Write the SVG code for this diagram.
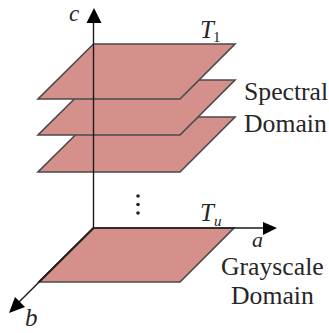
<svg xmlns="http://www.w3.org/2000/svg" width="329" height="333" viewBox="0 0 329 333">
<style>
.plane{fill:#d6908c;stroke:#4a4a4a;stroke-width:1.6;stroke-linejoin:miter}
.axis{stroke:#1a1a1a;stroke-width:1.4;fill:none}
.head{fill:#000}
text{font-family:"Liberation Serif",serif;fill:#262626}
.lbl{font-size:25.700px}
.var{font-size:25px;font-style:italic}
.var-small{font-size:23px;font-style:italic}
.sub{font-size:15px}
</style>
<rect width="329" height="333" fill="#fff"/>
<g id="plane-grayscale"><polygon class="plane" points="93.500,228 234,228 180,282 39,282"/></g>
<g id="plane-3"><polygon class="plane" points="93.500,117 235,117 180,172 38,172"/></g>
<g id="plane-2"><polygon class="plane" points="93.500,80 235,80 180,135 38,135"/></g>
<g id="plane-1"><polygon class="plane" points="93.500,44 235,44 180,99 38,99"/></g>
<g id="connectors">
<line class="axis" x1="93.500" y1="228" x2="93.500" y2="20"/>
<polygon class="head" points="94,8 101.500,23 86.500,23"/>
<line class="axis" x1="93.500" y1="228" x2="265" y2="228"/>
<polygon class="head" points="277,228 263,222 263,235"/>
<line class="axis" x1="93.500" y1="228" x2="18" y2="303"/>
<line x1="93.500" y1="228" x2="39" y2="282" stroke="#222" stroke-width="2"/>
<polygon class="head" points="9,313 15,297 25,307"/>
</g>
<g id="dots" fill="#222"><circle cx="138" cy="196" r="1.800"/><circle cx="138" cy="204.500" r="1.800"/><circle cx="138" cy="213" r="1.800"/></g>
<g id="label-c"><text class="var-small" x="69" y="21">c</text></g>
<g id="label-t1"><text class="var" x="200" y="38">T</text><text class="sub" x="213" y="42">1</text></g>
<g id="label-spectral"><text class="lbl" x="244" y="100">Spectral</text><text class="lbl" x="244" y="132">Domain</text></g>
<g id="label-tu"><text class="var" x="200" y="221">T</text><text class="sub" font-style="italic" x="214" y="226">u</text></g>
<g id="label-a"><text font-size="22" font-style="italic" x="252" y="247">a</text></g>
<g id="label-grayscale"><text class="lbl" x="221" y="275">Grayscale</text><text class="lbl" x="231" y="304">Domain</text></g>
<g id="label-b"><text class="var" x="25" y="326">b</text></g>
</svg>
